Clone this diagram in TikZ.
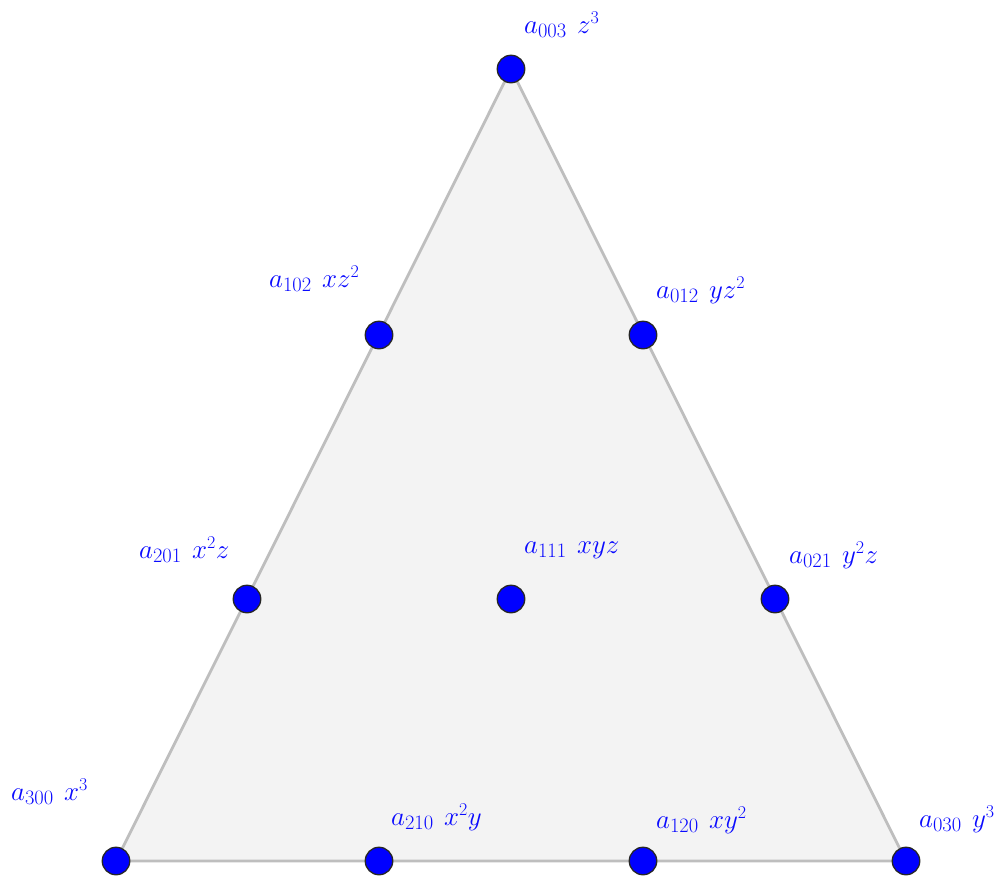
\RequirePackage{fix-cm}
\documentclass[tikz,border=0pt]{standalone}
\newcommand{\sbx}[1]{\mbox{\fontsize{20.5}{22}\selectfont #1}}
\newcommand{\spx}[1]{\mbox{\fontsize{18}{19}\selectfont #1}}
\begin{document}
\begin{tikzpicture}[x=1pt,y=-1pt,
  dot/.style={circle,draw=black!85,line width=1.3pt,fill={rgb,255:red,0;green,0;blue,255},minimum size=27.5pt,inner sep=0pt},
  lab/.style={anchor=base west,inner sep=0pt,text={rgb,255:red,10;green,10;blue,255},font=\fontsize{27}{30}\selectfont},
  edge/.style={draw={rgb,255:red,190;green,190;blue,190},line width=2.8pt,fill={rgb,255:red,243;green,243;blue,243}}]
\useasboundingbox (0,0) rectangle (1004,879);
\coordinate (c300) at (116,861);
\coordinate (c030) at (906,861);
\coordinate (c003) at (511,69);
\path[edge] (c300) -- (c030) -- (c003) -- cycle;
\node[dot] (p300) at (c300) {};
\node[dot] (p210) at (379,861) {};
\node[dot] (p120) at (643,861) {};
\node[dot] (p030) at (c030) {};
\node[dot] (p201) at (247,599) {};
\node[dot] (p111) at (511,599) {};
\node[dot] (p021) at (775,599) {};
\node[dot] (p102) at (379,335) {};
\node[dot] (p012) at (643,335) {};
\node[dot] (p003) at (c003) {};
\def\gap{\hspace{0.38em}}
\node[lab] (l003) at (524,33) {$a_{\sbx{003}}\gap z^{\spx{3}}$};
\node[lab] (l102) at (269,287) {$a_{\sbx{102}}\gap xz^{\spx{2}}$};
\node[lab] (l012) at (656,298) {$a_{\sbx{012}}\gap yz^{\spx{2}}$};
\node[lab] (l201) at (139,558) {$a_{\sbx{201}}\gap x^{\spx{2}}z$};
\node[lab] (l111) at (524,553) {$a_{\sbx{111}}\gap xyz$};
\node[lab] (l021) at (789,563) {$a_{\sbx{021}}\gap y^{\spx{2}}z$};
\node[lab] (l300) at (11,800) {$a_{\sbx{300}}\gap x^{\spx{3}}$};
\node[lab] (l210) at (391,825) {$a_{\sbx{210}}\gap x^{\spx{2}}y$};
\node[lab] (l120) at (656,828) {$a_{\sbx{120}}\gap xy^{\spx{2}}$};
\node[lab] (l030) at (919,827) {$a_{\sbx{030}}\gap y^{\spx{3}}$};
\end{tikzpicture}
\end{document}
